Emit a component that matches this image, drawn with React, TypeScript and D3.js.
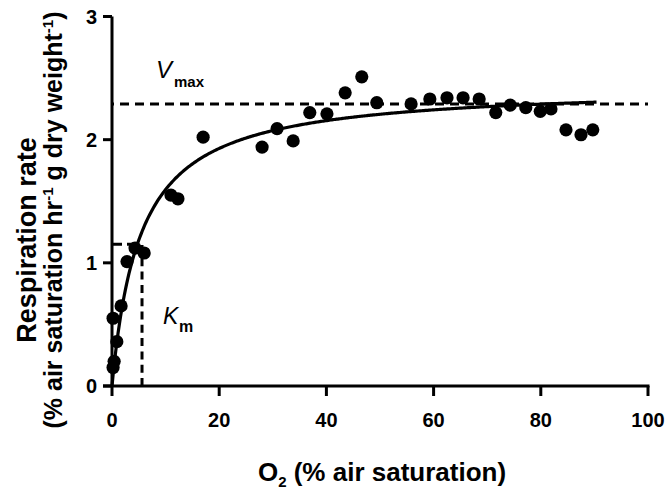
import React from "react";
import * as d3 from "d3";

const o2Values = [0.2, 0.4, 0.2, 0.9, 1.7, 2.8, 4.3, 6.0, 11.0, 12.3, 17.0, 28.0, 30.8, 33.8, 36.9, 40.1, 43.5, 46.6, 49.4, 55.8, 59.3, 62.5, 65.5, 68.5, 71.6, 74.3, 77.2, 79.9, 81.9, 84.7, 87.5, 89.7];
const rateValues = [0.15, 0.2, 0.55, 0.36, 0.65, 1.01, 1.12, 1.08, 1.55, 1.52, 2.02, 1.94, 2.09, 1.99, 2.22, 2.21, 2.38, 2.51, 2.3, 2.29, 2.33, 2.34, 2.34, 2.33, 2.22, 2.28, 2.26, 2.23, 2.25, 2.08, 2.04, 2.08];
const xTicks = [0, 20, 40, 60, 80, 100];
const yTicks = [0, 1, 2, 3];
const vmaxLine = 2.29;
const kmValue = 5.6;
const halfVmax = 1.15;
const fitVmax = 2.44;
const fitKm = 5.3;
const fitXMax = 90.4;

const FONT = "'Liberation Sans', Arial, Helvetica, sans-serif";

export default function App() {
  const x = d3.scaleLinear().domain([0, 100]).range([112, 648]);
  const y = d3.scaleLinear().domain([0, 3]).range([386, 16.5]);
  const curveXs = d3.range(0, 400).map((i) => (fitXMax * i) / 399);
  const line = d3
    .line<number>()
    .x((d) => x(d))
    .y((d) => y((fitVmax * d) / (fitKm + d)));
  const sw = 3;
  return (
    <svg width={666} height={493} style={{ position: "absolute", left: 0, top: 0, background: "#fff" }}>
      <rect width={666} height={493} fill="#fff" />
      {/* dashed lines */}
      <line x1={x(0)} x2={x(100)} y1={y(vmaxLine)} y2={y(vmaxLine)} stroke="#000" strokeWidth={sw} strokeDasharray="9,6" strokeDashoffset={-8} />
      <line x1={x(kmValue)} x2={x(kmValue)} y1={y(0)} y2={y(halfVmax)} stroke="#000" strokeWidth={sw} strokeDasharray="8,5.3" />
      <line x1={x(0)} x2={x(kmValue)} y1={y(halfVmax)} y2={y(halfVmax)} stroke="#000" strokeWidth={sw} strokeDasharray="10,5" />
      {/* fitted curve */}
      <path d={line(curveXs) || ""} fill="none" stroke="#000" strokeWidth={3.2} />
      {/* axes */}
      <line x1={x(0)} x2={x(0)} y1={y(0)} y2={y(3)} stroke="#000" strokeWidth={sw} />
      <line x1={x(0) - 9} x2={x(100) + 1.5} y1={y(0)} y2={y(0)} stroke="#000" strokeWidth={sw} />
      {xTicks.map((t) => (
        <g key={"x" + t}>
          <line x1={x(t)} x2={x(t)} y1={y(0)} y2={y(0) + 10} stroke="#000" strokeWidth={sw} />
          <text x={x(t)} y={427} textAnchor="middle" fontFamily={FONT} fontWeight="bold" fontSize={20}>{t}</text>
        </g>
      ))}
      {yTicks.map((t) => (
        <g key={"y" + t}>
          <line x1={x(0) - 9} x2={x(0)} y1={y(t)} y2={y(t)} stroke="#000" strokeWidth={sw} />
          <text x={97} y={y(t)} dy="0.36em" textAnchor="end" fontFamily={FONT} fontWeight="bold" fontSize={20}>{t}</text>
        </g>
      ))}
      {/* points */}
      {o2Values.map((v, i) => (
        <circle key={i} cx={x(v)} cy={y(rateValues[i])} r={6.6} fill="#000" />
      ))}
      {/* labels */}
      <text x={156} y={78} fontFamily={FONT} fontStyle="italic" fontSize={24}>V</text>
      <text x={174} y={87} fontFamily={FONT} fontWeight="bold" fontSize={15}>max</text>
      <text x={163} y={324} fontFamily={FONT} fontStyle="italic" fontSize={23}>K</text>
      <text x={179} y={332} fontFamily={FONT} fontWeight="bold" fontSize={16}>m</text>
      {/* x title */}
      <text x={382} y={481} textAnchor="middle" fontFamily={FONT} fontWeight="bold" fontSize={26}>
        O<tspan fontSize={15} dy={6}>2</tspan><tspan dy={-6}> (% air saturation)</tspan>
      </text>
      {/* y title */}
      <text transform="translate(36,240) rotate(-90)" textAnchor="middle" fontFamily={FONT} fontWeight="bold" fontSize={27}>
        Respiration rate
      </text>
      <text transform="translate(62,220) rotate(-90)" textAnchor="middle" fontFamily={FONT} fontWeight="bold" fontSize={25}>
        (% air saturation hr<tspan fontSize={15} dy={-9}>-1</tspan><tspan dy={9}> g dry weight</tspan><tspan fontSize={15} dy={-9}>-1</tspan><tspan dy={9}>)</tspan>
      </text>
    </svg>
  );
}
